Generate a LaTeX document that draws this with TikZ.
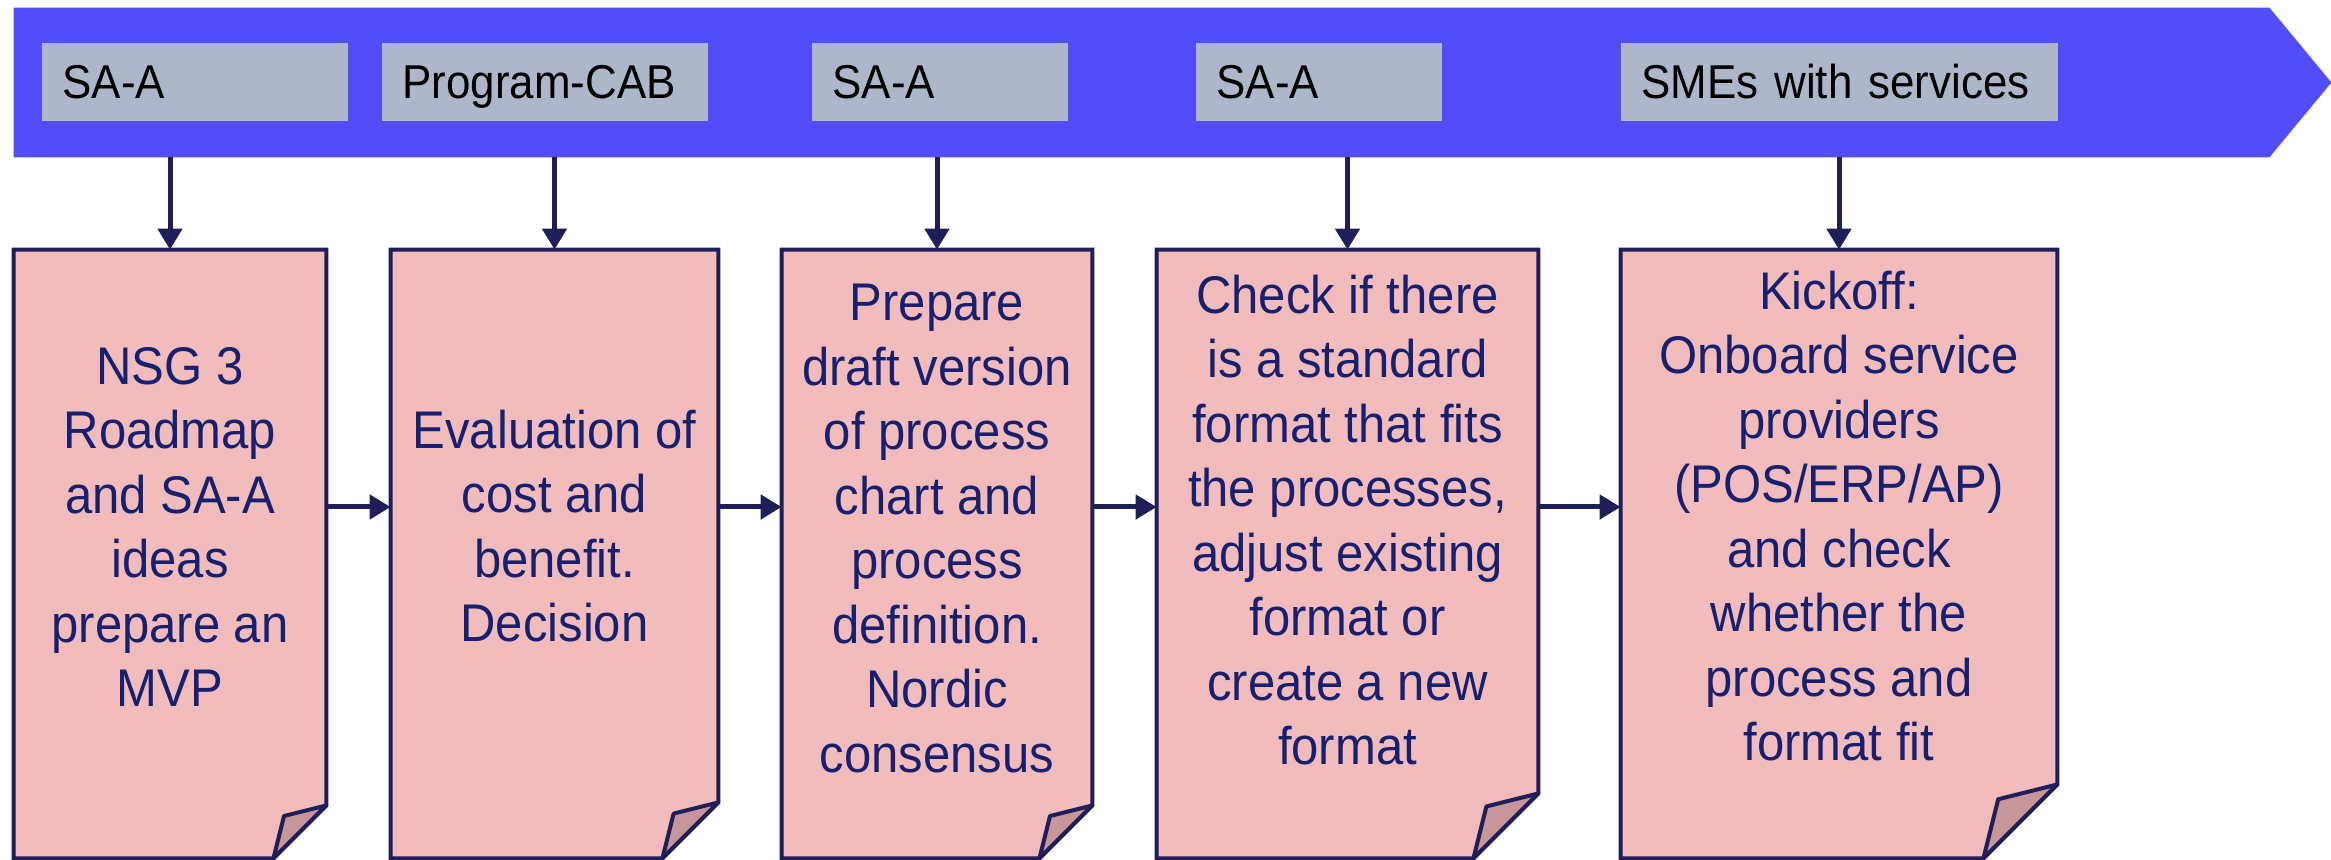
\documentclass[tikz,border=0pt]{standalone}
\usepackage{fontspec}
\setmainfont{Liberation Sans}
\newfontfamily\procfont[FakeStretch=0.925]{Liberation Sans}
\usetikzlibrary{arrows.meta,calc}
\definecolor{bannerblue}{RGB}{82,76,250}
\definecolor{labelgray}{RGB}{173,183,201}
\definecolor{boxpink}{RGB}{242,188,189}
\definecolor{foldpink}{RGB}{198,150,154}
\definecolor{edgenavy}{RGB}{32,30,88}
\definecolor{textnavy}{RGB}{22,32,110}
\newcommand\pagefold[2]{%
  \filldraw[fill=boxpink, draw=edgenavy, line width=2pt]
    (#1.north west) -- (#1.north east) -- ($(#1.south east)+(0,-#2)$)
    -- ($(#1.south east)+(-#2,0)$) -- (#1.south west) -- cycle;
  \filldraw[fill=foldpink, draw=edgenavy, line width=2pt, line join=round]
    ($(#1.south east)+(-#2,0)$) -- ($(#1.south east)+(-0.8*#2,-0.8*#2)$)
    -- ($(#1.south east)+(0,-#2)$) -- cycle;
}
\begin{document}
\begin{tikzpicture}[x=0.5pt,y=-0.5pt,
  bannerbox/.style={rectangle, inner sep=0pt, minimum width=1127.5pt, minimum height=74.5pt},
  tagbox/.style={rectangle, fill=labelgray, anchor=west, inner xsep=10pt, inner ysep=0pt,
    minimum height=39pt, text height=17pt, text depth=0pt, align=left,
    font=\procfont\fontsize{23.75pt}{28pt}\selectfont},
  procbox/.style={rectangle, inner sep=0pt, minimum height=304pt},
  proctext/.style={align=center, inner sep=0pt, text=textnavy,
    font=\procfont\fontsize{26.5pt}{32.25pt}\selectfont},
  conn/.style={draw=edgenavy, line width=2.5pt, -{Triangle[length=10.5pt,width=12pt]}},
]
\useasboundingbox (0,0) rectangle (2331,860);

% banner
\node[bannerbox] (banner) at (1141.5,82.5) {};
\fill[bannerblue] (banner.north west) -- (banner.north east) -- ($(banner.east)+(62,0)$)
  -- (banner.south east) -- (banner.south west) -- cycle;

% labels
\node[tagbox, text width=133pt] (l1) at (42,82) {SA-A};
\node[tagbox, text width=143pt] (l2) at (382,82) {Program-CAB};
\node[tagbox, text width=108pt] (l3) at (812,82) {SA-A};
\node[tagbox, text width=103pt] (l4) at (1196,82) {SA-A};
\node[tagbox, text width=198.5pt] (l5) at (1621,82) {SMEs with services};

% process boxes
\node[procbox, minimum width=156pt] (p1) at (170,554) {};
\node[procbox, minimum width=163.5pt] (p2) at (554.5,554) {};
\node[procbox, minimum width=155pt] (p3) at (937,554) {};
\node[procbox, minimum width=190.5pt] (p4) at (1347.5,554) {};
\node[procbox, minimum width=218pt] (p5) at (1839,554) {};
\pagefold{p1}{53}
\pagefold{p2}{56}
\pagefold{p3}{53}
\pagefold{p4}{65}
\pagefold{p5}{74}

\node[proctext] (t1) at (170,527) {NSG 3\\Roadmap\\and SA-A\\ideas\\prepare an\\MVP};
\node[proctext] (t2) at (554.5,526) {Evaluation of\\cost and\\benefit.\\Decision};
\node[proctext] (t3) at (937,528.5) {Prepare\\draft version\\of process\\chart and\\process\\definition.\\Nordic\\consensus};
\node[proctext] (t4) at (1347.5,520) {Check if there\\is a standard\\format that fits\\the processes,\\adjust existing\\format or\\create a new\\format};
\node[proctext] (t5) at (1839,516) {Kickoff:\\Onboard service\\providers\\(POS/ERP/AP)\\and check\\whether the\\process and\\format fit};

% connectors
\foreach \i in {1,...,5}
  \draw[conn] (banner.south -| p\i.north) -- (p\i.north);
\draw[conn] ([yshift=23.5pt]p1.east) -- ([yshift=23.5pt]p2.west);
\draw[conn] ([yshift=23.5pt]p2.east) -- ([yshift=23.5pt]p3.west);
\draw[conn] ([yshift=23.5pt]p3.east) -- ([yshift=23.5pt]p4.west);
\draw[conn] ([yshift=23.5pt]p4.east) -- ([yshift=23.5pt]p5.west);
\end{tikzpicture}
\end{document}
